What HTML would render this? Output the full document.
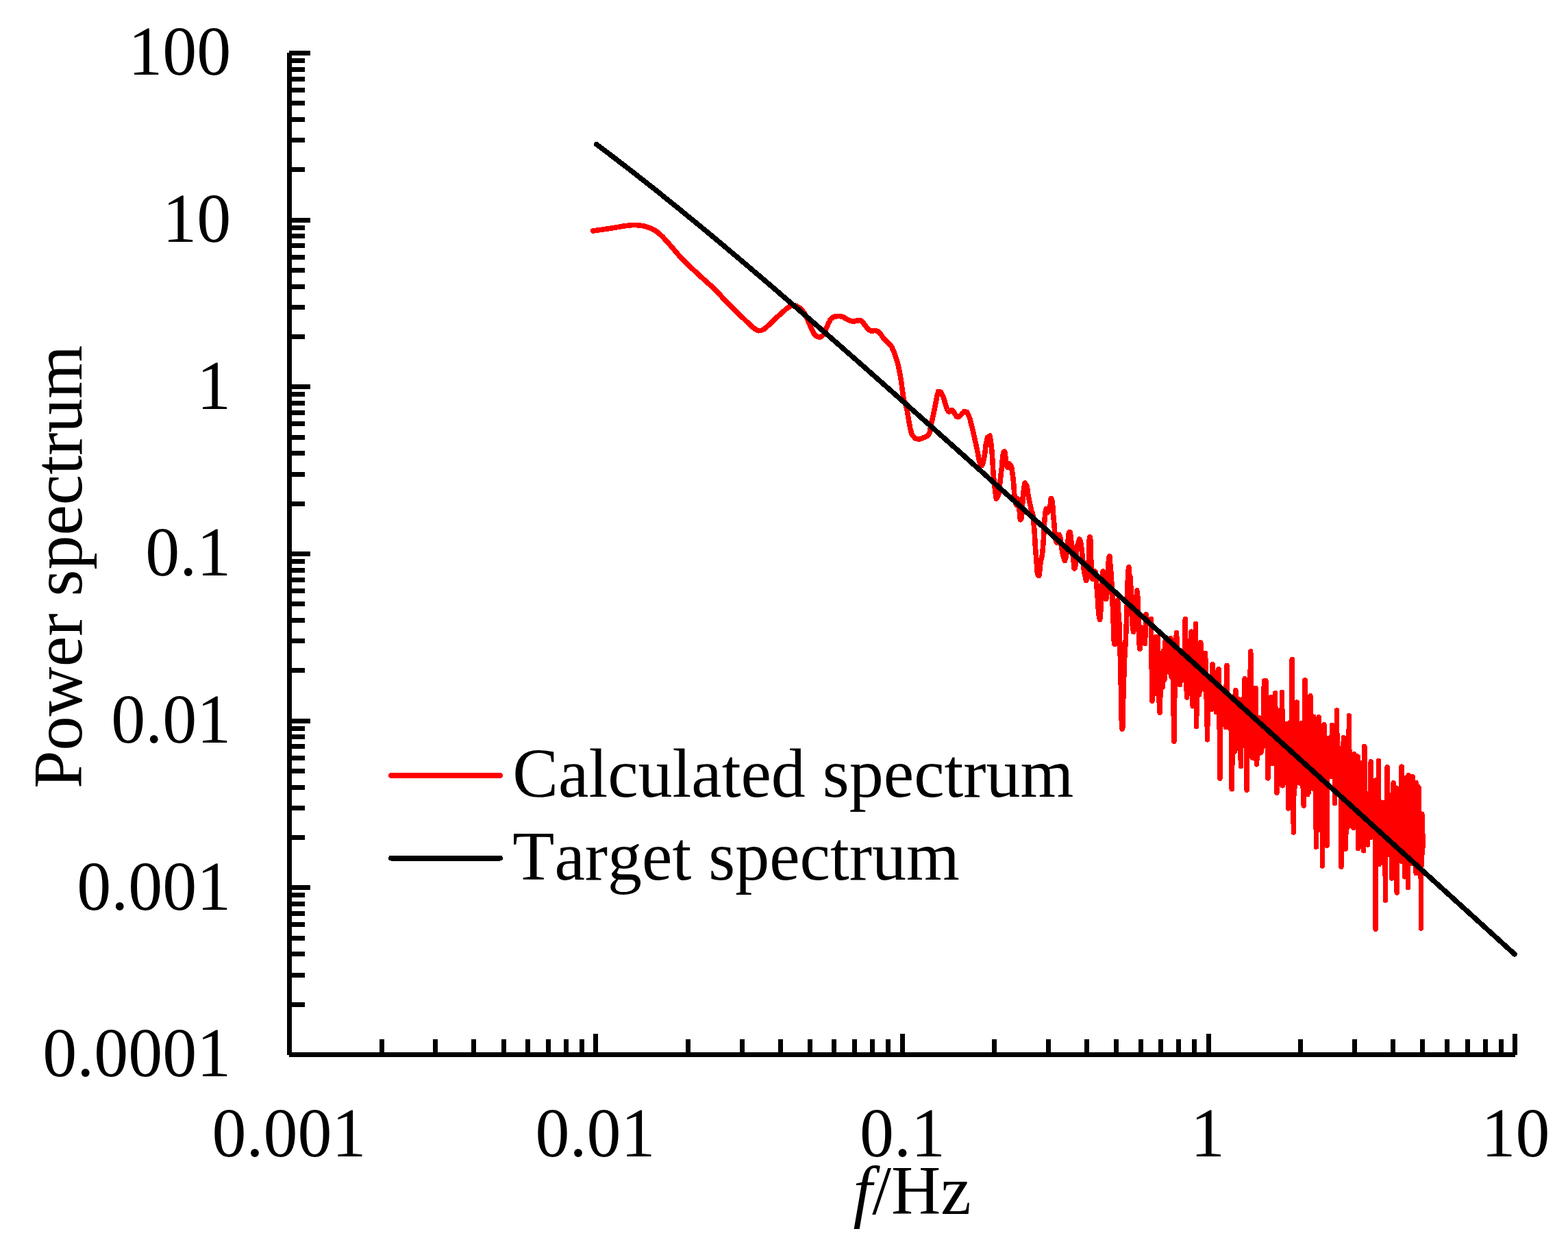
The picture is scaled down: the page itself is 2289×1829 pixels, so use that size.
<!DOCTYPE html>
<html lang="en"><head><meta charset="utf-8"><title>Power spectrum</title>
<style>html,body{margin:0;padding:0;background:#fff}body{width:2289px;height:1829px;overflow:hidden}svg{display:block}text{font-family:"Liberation Serif","Times New Roman",serif;font-size:100px;fill:#000;font-kerning:none;font-variant-ligatures:none}</style></head><body>
<svg width="2289" height="1829" viewBox="0 0 2289 1829">
<rect width="2289" height="1829" fill="#fff"/>
<g fill="#000" shape-rendering="crispEdges">
<rect x="419" y="77" width="7" height="1463"/>
<rect x="422" y="1536" width="1790" height="7"/>
<rect x="422" y="74" width="31" height="7"/>
<rect x="422" y="244" width="23" height="7"/>
<rect x="422" y="201" width="23" height="7"/>
<rect x="422" y="171" width="23" height="7"/>
<rect x="422" y="147" width="23" height="7"/>
<rect x="422" y="128" width="23" height="7"/>
<rect x="422" y="112" width="23" height="7"/>
<rect x="422" y="98" width="23" height="7"/>
<rect x="422" y="85" width="23" height="7"/>
<rect x="422" y="318" width="31" height="7"/>
<rect x="422" y="488" width="23" height="7"/>
<rect x="422" y="445" width="23" height="7"/>
<rect x="422" y="415" width="23" height="7"/>
<rect x="422" y="391" width="23" height="7"/>
<rect x="422" y="372" width="23" height="7"/>
<rect x="422" y="355" width="23" height="7"/>
<rect x="422" y="341" width="23" height="7"/>
<rect x="422" y="329" width="23" height="7"/>
<rect x="422" y="561" width="31" height="7"/>
<rect x="422" y="732" width="23" height="7"/>
<rect x="422" y="689" width="23" height="7"/>
<rect x="422" y="658" width="23" height="7"/>
<rect x="422" y="635" width="23" height="7"/>
<rect x="422" y="615" width="23" height="7"/>
<rect x="422" y="599" width="23" height="7"/>
<rect x="422" y="585" width="23" height="7"/>
<rect x="422" y="572" width="23" height="7"/>
<rect x="422" y="805" width="31" height="7"/>
<rect x="422" y="975" width="23" height="7"/>
<rect x="422" y="932" width="23" height="7"/>
<rect x="422" y="902" width="23" height="7"/>
<rect x="422" y="878" width="23" height="7"/>
<rect x="422" y="859" width="23" height="7"/>
<rect x="422" y="843" width="23" height="7"/>
<rect x="422" y="829" width="23" height="7"/>
<rect x="422" y="816" width="23" height="7"/>
<rect x="422" y="1049" width="31" height="7"/>
<rect x="422" y="1219" width="23" height="7"/>
<rect x="422" y="1176" width="23" height="7"/>
<rect x="422" y="1146" width="23" height="7"/>
<rect x="422" y="1122" width="23" height="7"/>
<rect x="422" y="1103" width="23" height="7"/>
<rect x="422" y="1086" width="23" height="7"/>
<rect x="422" y="1072" width="23" height="7"/>
<rect x="422" y="1060" width="23" height="7"/>
<rect x="422" y="1292" width="31" height="7"/>
<rect x="422" y="1463" width="23" height="7"/>
<rect x="422" y="1420" width="23" height="7"/>
<rect x="422" y="1389" width="23" height="7"/>
<rect x="422" y="1366" width="23" height="7"/>
<rect x="422" y="1346" width="23" height="7"/>
<rect x="422" y="1330" width="23" height="7"/>
<rect x="422" y="1316" width="23" height="7"/>
<rect x="422" y="1303" width="23" height="7"/>
<rect x="422" y="1536" width="31" height="7"/>
<rect x="554" y="1517" width="7" height="23"/>
<rect x="632" y="1517" width="7" height="23"/>
<rect x="688" y="1517" width="7" height="23"/>
<rect x="732" y="1517" width="7" height="23"/>
<rect x="767" y="1517" width="7" height="23"/>
<rect x="797" y="1517" width="7" height="23"/>
<rect x="823" y="1517" width="7" height="23"/>
<rect x="846" y="1517" width="7" height="23"/>
<rect x="866" y="1509" width="7" height="31"/>
<rect x="1001" y="1517" width="7" height="23"/>
<rect x="1080" y="1517" width="7" height="23"/>
<rect x="1136" y="1517" width="7" height="23"/>
<rect x="1179" y="1517" width="7" height="23"/>
<rect x="1214" y="1517" width="7" height="23"/>
<rect x="1244" y="1517" width="7" height="23"/>
<rect x="1270" y="1517" width="7" height="23"/>
<rect x="1293" y="1517" width="7" height="23"/>
<rect x="1314" y="1509" width="7" height="31"/>
<rect x="1448" y="1517" width="7" height="23"/>
<rect x="1527" y="1517" width="7" height="23"/>
<rect x="1583" y="1517" width="7" height="23"/>
<rect x="1626" y="1517" width="7" height="23"/>
<rect x="1662" y="1517" width="7" height="23"/>
<rect x="1691" y="1517" width="7" height="23"/>
<rect x="1717" y="1517" width="7" height="23"/>
<rect x="1740" y="1517" width="7" height="23"/>
<rect x="1761" y="1509" width="7" height="31"/>
<rect x="1895" y="1517" width="7" height="23"/>
<rect x="1974" y="1517" width="7" height="23"/>
<rect x="2030" y="1517" width="7" height="23"/>
<rect x="2073" y="1517" width="7" height="23"/>
<rect x="2109" y="1517" width="7" height="23"/>
<rect x="2139" y="1517" width="7" height="23"/>
<rect x="2165" y="1517" width="7" height="23"/>
<rect x="2188" y="1517" width="7" height="23"/>
<rect x="2208" y="1509" width="7" height="31"/>
</g>
<text transform="translate(337.3,109.3) scale(1,1.025)" text-anchor="end">100</text>
<text transform="translate(337.3,353.0) scale(1,1.025)" text-anchor="end">10</text>
<text transform="translate(337.3,596.6) scale(1,1.025)" text-anchor="end">1</text>
<text transform="translate(337.3,840.3) scale(1,1.025)" text-anchor="end">0.1</text>
<text transform="translate(337.3,1084.0) scale(1,1.025)" text-anchor="end">0.01</text>
<text transform="translate(337.3,1327.6) scale(1,1.025)" text-anchor="end">0.001</text>
<text transform="translate(337.3,1571.3) scale(1,1.025)" text-anchor="end">0.0001</text>
<text transform="translate(422.0,1687.6) scale(1,1.025)" text-anchor="middle">0.001</text>
<text transform="translate(869.0,1687.6) scale(1,1.025)" text-anchor="middle">0.01</text>
<text transform="translate(1317.4,1687.6) scale(1,1.025)" text-anchor="middle">0.1</text>
<text transform="translate(1763.0,1687.6) scale(1,1.025)" text-anchor="middle">1</text>
<text transform="translate(2212.5,1687.6) scale(1,1.025)" text-anchor="middle">10</text>
<text transform="translate(1245.4,1772.2) scale(1,1.02)"><tspan font-style="italic">f</tspan>/Hz</text>
<text transform="translate(118.8,1151) rotate(-90) scale(1,1.02)">Power spectrum</text>
<line shape-rendering="crispEdges" x1="571" y1="1132" x2="730" y2="1132" stroke="#f00" stroke-width="8" stroke-linecap="round"/>
<line shape-rendering="crispEdges" x1="571" y1="1252.6" x2="730" y2="1252.6" stroke="#000" stroke-width="7.8" stroke-linecap="round"/>
<text transform="translate(748.3,1163) scale(1,1.02)">Calculated spectrum</text>
<text transform="translate(748.3,1283.5) scale(1,1.02)">Target spectrum</text>
<path d="M865.6 337.0C871.5 336.2 871.9 336.2 883.4 334.5C894.9 332.8 889.7 333.5 900.1 331.8C910.5 330.1 906.0 330.5 914.6 329.5C923.2 328.5 918.4 328.7 925.8 328.7C933.2 328.7 930.2 328.5 936.9 329.5C943.6 330.5 939.9 329.7 945.8 331.8C951.7 333.9 948.7 332.2 954.7 335.7C960.7 339.2 957.7 337.0 963.7 342.3C969.7 347.6 966.7 345.1 972.6 351.5C978.5 357.9 975.7 354.8 981.5 361.5C987.3 368.2 984.2 364.9 990.0 371.5C995.8 378.1 991.8 374.0 999.0 381.2C1006.2 388.4 1001.8 384.1 1011.6 393.2C1021.4 402.3 1017.2 398.4 1028.3 408.6C1039.4 418.8 1035.4 414.2 1045.0 423.7C1054.6 433.2 1047.9 427.4 1057.2 437.0C1066.5 446.6 1061.9 441.8 1072.8 452.6C1083.7 463.4 1080.9 460.7 1090.0 469.4C1099.1 478.1 1094.9 474.4 1100.1 478.6C1105.3 482.8 1102.6 480.6 1105.6 481.9C1108.6 483.2 1106.4 482.7 1109.0 482.5C1111.6 482.3 1110.1 483.0 1113.4 481.3C1116.7 479.6 1113.4 482.2 1119.0 477.4C1124.6 472.6 1122.7 473.8 1130.1 466.9C1137.5 460.0 1134.2 462.9 1141.3 456.8C1148.4 450.7 1145.7 452.0 1151.3 448.5C1156.9 445.0 1153.5 446.4 1158.0 446.2C1162.5 446.0 1160.2 445.5 1164.7 447.9C1169.2 450.3 1167.3 448.7 1171.4 453.5C1175.5 458.3 1173.6 456.1 1176.9 462.4C1180.2 468.7 1178.4 465.7 1181.4 472.4C1184.4 479.1 1182.8 476.9 1185.8 482.5C1188.8 488.1 1186.9 486.0 1190.3 489.1C1193.7 492.2 1192.2 491.9 1195.9 491.9C1199.6 491.9 1198.1 493.0 1201.4 489.1C1204.7 485.2 1202.9 486.5 1205.9 480.2C1208.9 473.9 1207.4 475.6 1210.4 470.2C1213.4 464.8 1211.1 466.9 1214.8 464.1C1218.5 461.3 1216.7 462.4 1221.5 461.8C1226.3 461.2 1224.5 461.1 1229.3 462.4C1234.1 463.7 1231.2 463.5 1236.0 465.7C1240.8 467.9 1238.6 468.1 1243.8 468.9C1249.0 469.7 1247.1 468.1 1251.6 468.0C1256.1 467.9 1253.5 466.3 1257.2 468.5C1260.9 470.7 1259.0 470.4 1262.7 474.7C1266.4 479.0 1264.9 478.5 1268.3 481.3C1271.7 484.1 1269.5 482.5 1272.8 483.0C1276.1 483.5 1274.6 481.8 1278.3 482.7C1282.0 483.6 1279.8 481.8 1283.9 485.8C1288.0 489.8 1285.4 488.8 1290.6 494.7C1295.8 500.6 1295.0 498.0 1299.5 503.6C1304.0 509.2 1301.0 504.7 1304.0 511.4C1307.0 518.1 1305.8 515.5 1308.4 523.7C1311.0 531.9 1309.6 525.9 1311.8 535.9C1314.0 545.9 1313.3 542.6 1315.1 553.8C1316.9 565.0 1315.8 559.4 1317.3 569.4C1318.8 579.4 1317.6 575.0 1319.6 583.8C1321.6 592.6 1321.0 585.5 1323.4 595.8C1325.8 606.1 1324.6 603.2 1326.8 614.7C1329.0 626.2 1327.9 622.9 1330.1 630.3C1332.3 637.7 1330.2 633.5 1333.5 637.0C1336.8 640.5 1335.3 640.3 1340.1 640.9C1344.9 641.5 1343.4 640.2 1347.9 638.7C1352.4 637.2 1350.5 638.8 1353.5 636.4C1356.5 634.0 1355.0 636.8 1356.9 631.4C1358.8 626.0 1357.3 628.8 1359.1 620.3C1360.9 611.8 1360.2 616.2 1362.4 605.8C1364.6 595.4 1363.7 599.1 1365.8 589.1C1367.9 579.1 1366.8 581.5 1368.6 575.7C1370.4 569.9 1368.9 571.4 1371.3 571.8C1373.7 572.2 1372.8 570.7 1375.8 576.8C1378.8 582.9 1377.7 582.8 1380.3 590.2C1382.9 597.6 1381.4 595.8 1383.6 599.1C1385.8 602.4 1384.7 600.2 1386.9 600.2C1389.1 600.2 1387.9 597.6 1390.3 599.1C1392.7 600.6 1391.8 601.5 1394.2 604.7C1396.6 607.9 1395.1 607.9 1397.5 608.6C1399.9 609.3 1398.6 608.9 1401.4 606.9C1404.2 604.9 1403.3 604.5 1405.9 602.5C1408.5 600.5 1406.6 599.7 1409.2 600.8C1411.8 601.9 1410.7 599.3 1413.7 605.8C1416.7 612.3 1415.1 609.2 1418.1 620.3C1421.1 631.4 1419.6 626.2 1422.6 639.2C1425.6 652.2 1424.6 647.8 1427.0 659.3C1429.4 670.8 1428.1 667.5 1429.8 673.8C1431.5 680.1 1430.4 677.5 1432.1 678.2C1433.8 678.9 1433.0 681.2 1434.8 676.0C1436.6 670.8 1435.9 672.6 1437.6 662.6C1439.3 652.6 1438.0 653.9 1439.9 645.9C1441.8 637.9 1440.8 637.4 1443.2 638.7C1445.6 640.0 1444.1 626.5 1447.0 649.7C1449.9 672.9 1448.6 683.3 1451.8 708.2C1455.0 733.1 1453.4 729.4 1456.5 724.5C1459.6 719.6 1458.1 715.0 1461.1 693.4C1464.1 671.8 1462.6 664.0 1465.5 659.7C1468.4 655.4 1467.0 674.3 1469.9 680.4C1472.8 686.5 1471.4 673.4 1474.2 678.0C1477.0 682.6 1475.7 675.7 1478.4 694.3C1481.1 712.9 1479.7 721.9 1482.4 733.7C1485.1 745.5 1483.7 721.4 1486.4 729.6C1489.1 737.8 1487.8 762.3 1490.4 758.3C1493.0 754.3 1491.7 734.4 1494.2 717.5C1496.7 700.6 1495.5 704.6 1498.0 707.7C1500.5 710.8 1499.3 714.9 1501.7 726.8C1504.1 738.7 1502.9 731.8 1505.3 743.5C1507.7 755.2 1506.5 739.3 1508.9 761.8C1511.3 784.3 1510.1 785.0 1512.4 811.0C1514.7 837.0 1513.6 836.7 1515.8 839.8C1518.1 842.9 1517.0 833.9 1519.2 820.3C1521.4 806.7 1520.3 822.1 1522.5 798.9C1524.7 775.7 1523.6 767.6 1525.8 750.6C1527.9 733.6 1526.9 750.4 1529.0 747.9C1531.1 745.4 1530.1 749.6 1532.2 743.2C1534.2 736.8 1533.2 723.5 1535.3 728.8C1537.3 734.1 1536.3 739.0 1538.3 759.0C1540.3 779.0 1539.3 780.0 1541.3 788.7C1543.3 797.4 1542.3 787.0 1544.3 785.0C1546.3 783.0 1545.3 777.1 1547.2 782.7C1549.2 788.3 1548.2 791.3 1550.1 801.7C1552.0 812.1 1551.1 809.5 1552.9 813.8C1554.8 818.1 1553.9 821.2 1555.7 814.7C1557.6 808.2 1556.7 807.0 1558.5 794.3C1560.3 781.6 1559.4 777.8 1561.2 776.6C1563.0 775.4 1562.1 778.5 1563.9 790.6C1565.7 802.7 1564.8 800.1 1566.5 812.9C1568.3 825.7 1567.4 832.2 1569.1 829.1C1570.9 826.0 1570.0 815.8 1571.7 803.6C1573.4 791.4 1572.6 797.4 1574.2 792.4C1575.9 787.4 1575.1 785.0 1576.7 788.7C1578.4 792.4 1577.6 790.9 1579.2 803.6C1580.9 816.3 1580.0 814.4 1581.7 826.8C1583.3 839.2 1582.5 834.5 1584.1 840.7C1585.7 846.9 1584.9 849.9 1586.5 845.3C1588.0 840.7 1587.3 847.4 1588.8 826.8C1590.4 806.2 1589.6 782.2 1591.1 783.6C1592.7 785.0 1591.9 810.7 1593.4 831.0C1595.0 851.3 1594.2 843.5 1595.7 844.4C1597.2 845.3 1596.5 833.0 1598.0 833.7C1599.4 834.4 1598.7 832.9 1600.2 846.4C1601.6 859.9 1600.9 856.6 1602.4 874.3C1603.8 892.0 1603.1 893.3 1604.5 899.5C1606.0 905.7 1605.3 909.0 1606.7 892.9C1608.1 876.8 1607.4 870.5 1608.8 851.1C1610.2 831.7 1609.5 833.3 1610.9 834.8C1612.3 836.3 1611.6 842.8 1613.0 855.7C1614.4 868.6 1613.7 878.0 1615.0 873.4C1616.4 868.8 1615.7 861.8 1617.1 841.8C1618.4 821.8 1617.8 818.1 1619.1 813.5C1620.4 808.9 1619.8 813.8 1621.1 827.9C1622.4 842.0 1621.7 831.0 1623.1 855.7C1624.4 880.4 1623.7 873.9 1625.0 902.1C1626.3 930.3 1625.7 937.1 1626.9 940.2C1628.2 943.3 1627.6 931.8 1628.9 911.4C1630.1 891.0 1629.5 885.1 1630.7 878.9C1632.0 872.7 1631.4 875.9 1632.6 892.9C1633.9 909.9 1633.3 894.3 1634.5 930.0C1635.7 965.7 1635.1 955.3 1636.3 1000.0C1637.5 1044.7 1636.9 1060.7 1638.1 1064.0C1639.4 1067.3 1638.8 1044.7 1640.0 1010.0C1641.2 975.3 1640.6 986.7 1641.7 960.0C1642.9 933.3 1642.3 955.5 1643.5 930.0C1644.7 904.5 1644.1 915.4 1645.3 883.6C1646.4 851.8 1645.9 849.4 1647.0 834.5C1648.2 819.6 1647.6 833.5 1648.7 839.0C1649.9 844.5 1649.3 833.0 1650.5 851.0C1651.6 869.0 1651.0 870.6 1652.2 892.9C1653.3 915.2 1652.7 910.3 1653.8 918.0C1655.0 925.7 1654.4 922.0 1655.5 916.0C1656.6 910.0 1656.1 913.7 1657.2 900.0C1658.3 886.3 1657.7 886.2 1658.8 875.0C1659.9 863.8 1659.3 856.5 1660.4 866.5C1661.5 876.5 1661.0 878.9 1662.0 905.0C1663.1 931.1 1662.6 936.5 1663.6 944.8C1664.7 953.1 1664.2 939.4 1665.2 930.0C1666.3 920.6 1665.7 918.2 1666.8 916.5C1667.8 914.8 1667.3 919.8 1668.4 925.0C1669.4 930.2 1668.9 927.2 1669.9 932.0C1670.9 936.8 1670.9 936.9 1671.4 939.3L1673.0 896.6L1674.5 910.2L1676.0 905.7L1677.5 909.9L1678.9 904.0L1680.4 903.5L1681.9 1023.2L1683.3 1001.6L1684.7 949.7L1686.2 1012.2L1687.6 929.5L1689.0 993.8L1690.4 929.4L1691.7 1016.0L1693.1 1040.0L1694.5 989.9L1695.8 981.9L1697.2 1003.0L1698.5 950.0L1699.8 992.4L1701.2 935.6L1702.5 974.9L1703.8 946.3L1705.1 976.2L1706.3 936.5L1707.6 981.5L1708.9 931.9L1710.1 988.0L1711.4 943.8L1712.6 998.9L1713.9 1082.0L1715.1 989.7L1716.3 944.7L1717.5 923.7L1718.7 955.0L1719.9 983.8L1721.1 966.8L1722.3 999.5L1723.5 963.4L1724.6 993.2L1725.8 951.9L1726.9 982.8L1728.1 951.3L1729.2 979.3L1730.3 903.7L1731.5 984.5L1732.6 1018.0L1733.7 995.8L1734.8 966.6L1735.9 1010.2L1737.0 936.6L1738.1 990.2L1739.2 922.2L1740.3 995.9L1741.3 1030.8L1742.4 1003.2L1743.4 928.0L1744.5 1012.7L1745.5 910.7L1746.6 1060.3L1747.6 939.0L1748.7 999.3L1749.7 969.3L1750.7 1014.0L1751.7 940.1L1752.7 937.8L1753.7 952.9L1754.7 995.2L1755.7 973.1L1756.7 998.6L1757.7 966.2L1758.7 1006.4L1759.6 953.4L1760.6 1018.4L1761.6 987.0L1762.5 1079.8L1763.5 987.6L1764.4 1027.3L1765.4 989.7L1766.3 1023.9L1767.3 1006.4L1768.2 1035.7L1769.1 991.7L1770.0 969.7L1771.0 984.6L1771.9 1025.3L1772.8 1000.2L1773.7 1031.3L1774.6 981.9L1775.5 1039.7L1776.4 984.7L1777.3 1022.1L1778.2 998.2L1779.0 976.8L1779.9 1007.4L1780.8 1136.0L1781.7 1005.2L1782.5 1054.3L1783.4 1009.0L1784.2 1054.8L1785.1 1012.2L1785.9 1051.1L1786.8 1026.6L1787.6 1051.9L1788.5 1017.2L1789.3 1061.3L1790.1 1007.5L1791.0 971.5L1791.8 1033.0L1792.6 1061.0L1793.4 1020.0L1794.2 1048.5L1795.1 1029.7L1795.9 1063.4L1796.7 1018.9L1797.5 1063.6L1798.3 1151.8L1799.1 1085.2L1799.9 1029.1L1800.6 1068.5L1801.4 1016.3L1802.2 1097.2L1803.0 1023.0L1803.8 1007.7L1804.5 1027.2L1805.3 1092.8L1806.1 1037.9L1806.8 1076.0L1807.6 1024.6L1808.4 1089.5L1809.1 1021.2L1809.9 1073.9L1810.6 1036.8L1811.4 1118.7L1812.1 1043.0L1812.8 1088.4L1813.6 1054.8L1814.3 1085.5L1815.0 1019.6L1815.8 1088.0L1816.5 1036.4L1817.2 990.9L1817.9 1000.8L1818.7 1085.1L1819.4 1020.5L1820.1 1153.0L1820.8 1008.7L1821.5 1102.5L1822.2 1037.3L1822.9 1091.7L1823.6 1023.9L1824.3 1088.3L1825.0 998.5L1825.7 950.8L1826.4 1004.7L1827.1 1103.8L1827.8 1033.0L1828.4 1106.0L1829.1 1004.9L1829.8 1092.4L1830.5 1024.0L1831.1 1096.3L1831.8 1017.2L1832.5 1107.5L1833.2 1004.6L1833.8 1095.1L1834.5 1115.8L1835.1 1099.5L1835.8 1057.6L1836.4 1094.5L1837.1 1059.0L1837.8 1099.9L1838.4 1047.9L1839.0 1094.1L1839.7 1061.7L1840.3 1098.8L1841.0 1049.5L1841.6 1096.7L1842.2 1060.8L1842.9 1091.2L1843.5 1054.7L1844.1 1086.4L1844.8 1053.7L1845.4 994.0L1846.0 999.4L1846.6 1086.7L1847.3 1038.1L1847.9 994.0L1848.5 1052.7L1849.1 1085.0L1849.7 1052.9L1850.3 1090.3L1850.9 1135.9L1851.5 1112.0L1852.1 1035.3L1852.7 1109.0L1853.3 1033.4L1853.9 1103.9L1854.5 1048.8L1855.1 1091.3L1855.7 1017.5L1856.3 1097.9L1856.9 1044.0L1857.5 1114.4L1858.1 1030.0L1858.7 1078.9L1859.3 1031.7L1859.8 1104.9L1860.4 1027.9L1861.0 1085.1L1861.6 1011.9L1862.1 1105.6L1862.7 1045.6L1863.3 1113.7L1863.9 1157.0L1864.4 1132.9L1865.0 1039.6L1865.5 1121.7L1866.1 1068.4L1866.7 1144.6L1867.2 1071.9L1867.8 1119.5L1868.3 1057.8L1868.9 1116.3L1869.4 1036.7L1870.0 1124.8L1870.5 1069.9L1871.1 1141.5L1871.6 1010.8L1872.2 1146.8L1872.7 1064.1L1873.3 1117.1L1873.8 1070.7L1874.4 1121.1L1874.9 1061.7L1875.4 1126.4L1876.0 1077.4L1876.5 1129.4L1877.0 1065.6L1877.6 1142.6L1878.1 1091.0L1878.6 1127.9L1879.1 1056.4L1879.7 1111.9L1880.2 1086.8L1880.7 1179.9L1881.2 1089.1L1881.7 1157.3L1882.3 1069.1L1882.8 1168.4L1883.3 1054.6L1883.8 1135.5L1884.3 1076.4L1884.8 1130.0L1885.3 1095.1L1885.8 1140.6L1886.3 962.6L1886.9 1120.2L1887.4 1063.7L1887.9 1144.7L1888.4 1215.0L1888.9 1134.0L1889.4 1065.9L1889.9 1149.4L1890.4 1059.6L1890.8 1111.0L1891.3 1049.0L1891.8 1109.9L1892.3 1025.5L1892.8 1124.8L1893.3 1025.2L1893.8 1118.4L1894.3 1061.8L1894.8 1125.1L1895.2 1078.9L1895.7 1132.2L1896.2 1075.5L1896.7 1141.7L1897.2 1066.7L1897.6 1143.1L1898.1 1087.3L1898.6 1114.7L1899.1 1088.4L1899.5 1140.3L1900.0 1056.0L1900.5 1129.5L1901.0 1076.0L1901.4 1147.9L1901.9 1066.0L1902.4 1134.1L1902.8 1086.2L1903.3 1176.0L1903.8 1092.4L1904.2 1137.4L1904.7 1079.5L1905.1 992.7L1905.6 1057.9L1906.1 1150.5L1906.5 1053.2L1907.0 1144.6L1907.4 1028.4L1907.9 1155.2L1908.3 1072.9L1908.8 1159.7L1909.2 1047.1L1909.7 1148.9L1910.1 1034.6L1910.6 1155.8L1911.0 1065.6L1911.5 1123.2L1911.9 1020.8L1912.3 1128.6L1912.8 1015.8L1913.2 1150.3L1913.7 1068.4L1914.1 1116.3L1914.5 1083.2L1915.0 1117.9L1915.4 1082.8L1915.9 1123.0L1916.3 1061.4L1916.7 1151.2L1917.2 1052.5L1917.6 1046.2L1918.0 1082.5L1918.4 1150.1L1918.9 1095.3L1919.3 1148.7L1919.7 1099.5L1920.2 1140.9L1920.6 1099.6L1921.0 1124.8L1921.4 1236.2L1921.8 1188.5L1922.3 1080.1L1922.7 1201.1L1923.1 1101.9L1923.5 1188.2L1923.9 1114.6L1924.4 1190.5L1924.8 1081.4L1925.2 1046.7L1925.6 1112.1L1926.0 1211.6L1926.4 1071.3L1926.8 1208.4L1927.2 1120.0L1927.7 1187.6L1928.1 1094.7L1928.5 1166.9L1928.9 1092.3L1929.3 1186.2L1929.7 1096.7L1930.1 1155.8L1930.5 1263.9L1930.9 1199.4L1931.3 1086.1L1931.7 1219.4L1932.1 1097.5L1932.5 1197.7L1932.9 1058.0L1933.3 1173.4L1933.7 1107.5L1934.1 1195.8L1934.5 1134.3L1934.9 1228.5L1935.3 1090.2L1935.7 1199.6L1936.1 1081.1L1936.5 1197.0L1936.8 1125.3L1937.2 1234.0L1937.6 1085.9L1938.0 1122.4L1938.4 1078.1L1938.8 1130.6L1939.2 1098.1L1939.6 1117.3L1939.9 1094.1L1940.3 1114.4L1940.7 1078.2L1941.1 1120.0L1941.5 1091.6L1941.8 1122.5L1942.2 1082.6L1942.6 1130.6L1943.0 1075.8L1943.4 1133.7L1943.7 1076.2L1944.1 1127.7L1944.5 1058.7L1944.9 1115.0L1945.2 1077.2L1945.6 1122.8L1946.0 1072.2L1946.4 1122.0L1946.7 1077.2L1947.1 1113.8L1947.5 1066.6L1947.8 1129.1L1948.2 1080.7L1948.6 1172.6L1948.9 1090.6L1949.3 1136.0L1949.7 1090.8L1950.0 1122.4L1950.4 1086.7L1950.8 1143.2L1951.1 1092.5L1951.5 1036.9L1951.9 1099.7L1952.2 1148.2L1952.6 1097.4L1952.9 1150.0L1953.3 1112.8L1953.6 1130.0L1954.0 1097.9L1954.4 1143.7L1954.7 1098.4L1955.1 1129.2L1955.4 1111.6L1955.8 1136.7L1956.1 1110.6L1956.5 1129.9L1956.8 1101.7L1957.2 1142.7L1957.5 1092.8L1957.9 1265.2L1958.2 1128.6L1958.6 1220.3L1958.9 1143.8L1959.3 1178.1L1959.6 1119.2L1960.0 1212.2L1960.3 1119.1L1960.7 1208.3L1961.0 1102.4L1961.4 1076.8L1961.7 1084.2L1962.0 1168.4L1962.4 1110.4L1962.7 1196.5L1963.1 1111.4L1963.4 1174.8L1963.8 1088.9L1964.1 1178.2L1964.4 1239.1L1964.8 1211.5L1965.1 1127.7L1965.4 1163.5L1965.8 1081.3L1966.1 1209.4L1966.5 1102.8L1966.8 1199.4L1967.1 1095.5L1967.5 1183.4L1967.8 1105.6L1968.1 1181.5L1968.4 1110.2L1968.8 1159.1L1969.1 1115.6L1969.4 1044.8L1969.8 1108.1L1970.1 1187.5L1970.4 1133.1L1970.8 1185.4L1971.1 1108.7L1971.4 1174.6L1971.7 1123.0L1972.1 1167.9L1972.4 1140.0L1972.7 1203.1L1973.0 1131.6L1973.4 1205.8L1973.7 1128.2L1974.0 1185.3L1974.3 1126.9L1974.6 1189.8L1975.0 1144.0L1975.3 1203.3L1975.6 1111.6L1975.9 1208.0L1976.2 1133.4L1976.6 1202.1L1976.9 1100.8L1977.2 1186.1L1977.5 1142.1L1977.8 1206.8L1978.1 1133.3L1978.5 1201.9L1978.8 1136.4L1979.1 1186.1L1979.4 1134.5L1979.7 1171.5L1980.0 1117.9L1980.3 1188.8L1980.7 1103.5L1981.0 1183.9L1981.3 1130.8L1981.6 1195.6L1981.9 1113.1L1982.2 1209.6L1982.5 1104.9L1982.8 1238.5L1983.1 1144.2L1983.4 1215.6L1983.7 1137.8L1984.0 1206.5L1984.4 1161.4L1984.7 1219.3L1985.0 1146.3L1985.3 1225.3L1985.6 1160.4L1985.9 1187.9L1986.2 1142.0L1986.5 1224.2L1986.8 1123.8L1987.1 1207.1L1987.4 1113.4L1987.7 1196.7L1988.0 1129.8L1988.3 1191.7L1988.6 1123.5L1988.9 1232.6L1989.2 1138.7L1989.5 1212.5L1989.8 1159.8L1990.1 1215.5L1990.4 1161.2L1990.7 1241.8L1991.0 1148.8L1991.3 1184.7L1991.5 1138.8L1991.8 1089.6L1992.1 1155.0L1992.4 1225.9L1992.7 1158.5L1993.0 1212.3L1993.3 1158.7L1993.6 1213.0L1993.9 1171.9L1994.2 1200.0L1994.5 1181.8L1994.8 1210.8L1995.0 1169.4L1995.3 1216.0L1995.6 1164.6L1995.9 1206.8L1996.2 1173.2L1996.5 1233.0L1996.8 1161.7L1997.1 1216.0L1997.3 1162.0L1997.6 1196.3L1997.9 1160.6L1998.2 1197.1L1998.5 1158.1L1998.8 1217.1L1999.1 1164.7L1999.3 1221.1L1999.6 1174.7L1999.9 1197.3L2000.2 1181.5L2000.5 1222.4L2000.7 1155.8L2001.0 1221.3L2001.3 1111.9L2001.6 1204.9L2001.9 1168.1L2002.1 1196.3L2002.4 1151.7L2002.7 1221.7L2003.0 1159.0L2003.3 1204.5L2003.5 1168.3L2003.8 1217.3L2004.1 1154.6L2004.4 1191.6L2004.6 1155.3L2004.9 1204.1L2005.2 1140.0L2005.5 1189.3L2005.7 1151.8L2006.0 1192.0L2006.3 1148.7L2006.6 1211.8L2006.8 1149.2L2007.1 1197.0L2007.4 1153.8L2007.6 1202.8L2007.9 1161.0L2008.2 1356.0L2008.4 1184.4L2008.7 1260.0L2009.0 1170.7L2009.3 1222.9L2009.5 1138.4L2009.8 1256.9L2010.1 1173.3L2010.3 1243.0L2010.6 1151.2L2010.9 1224.6L2011.1 1168.1L2011.4 1239.9L2011.7 1163.3L2011.9 1243.4L2012.2 1171.7L2012.5 1110.8L2012.7 1178.0L2013.0 1261.7L2013.2 1203.1L2013.5 1258.0L2013.8 1170.2L2014.0 1227.3L2014.3 1178.9L2014.6 1240.9L2014.8 1192.1L2015.1 1228.8L2015.3 1189.0L2015.6 1227.7L2015.9 1171.9L2016.1 1250.4L2016.4 1189.4L2016.6 1248.7L2016.9 1182.7L2017.2 1242.9L2017.4 1176.6L2017.7 1237.9L2017.9 1196.6L2018.2 1256.4L2018.4 1171.5L2018.7 1229.5L2019.0 1199.1L2019.2 1248.4L2019.5 1197.5L2019.7 1233.0L2020.0 1184.6L2020.2 1234.7L2020.5 1199.1L2020.7 1238.8L2021.0 1193.2L2021.2 1262.1L2021.5 1180.9L2021.7 1245.6L2022.0 1196.7L2022.2 1259.5L2022.5 1314.0L2022.7 1229.5L2023.0 1171.9L2023.2 1245.9L2023.5 1171.3L2023.7 1220.2L2024.0 1187.0L2024.2 1233.2L2024.5 1191.0L2024.7 1227.2L2025.0 1193.9L2025.2 1119.7L2025.5 1163.9L2025.7 1237.3L2026.0 1159.0L2026.2 1223.8L2026.5 1183.2L2026.7 1238.5L2027.0 1166.5L2027.2 1217.7L2027.5 1169.4L2027.7 1239.7L2027.9 1169.7L2028.2 1216.8L2028.4 1182.6L2028.7 1233.8L2028.9 1190.5L2029.2 1247.7L2029.4 1190.3L2029.6 1228.8L2029.9 1186.1L2030.1 1223.8L2030.4 1167.9L2030.6 1227.4L2030.8 1191.1L2031.1 1246.0L2031.3 1165.2L2031.6 1282.0L2031.8 1172.6L2032.0 1240.9L2032.3 1174.0L2032.5 1242.0L2032.8 1164.8L2033.0 1250.1L2033.2 1192.3L2033.5 1249.0L2033.7 1194.1L2033.9 1250.0L2034.2 1142.9L2034.4 1258.1L2034.7 1190.0L2034.9 1234.5L2035.1 1147.5L2035.4 1246.1L2035.6 1173.3L2035.8 1248.6L2036.1 1194.2L2036.3 1252.8L2036.5 1186.2L2036.8 1223.7L2037.0 1173.4L2037.2 1259.5L2037.5 1150.6L2037.7 1224.6L2037.9 1182.8L2038.2 1265.0L2038.4 1150.6L2038.6 1251.9L2038.9 1153.5L2039.1 1257.4L2039.3 1302.9L2039.5 1224.3L2039.8 1156.2L2040.0 1247.5L2040.2 1169.7L2040.5 1247.5L2040.7 1164.0L2040.9 1228.4L2041.1 1189.6L2041.4 1243.4L2041.6 1168.4L2041.8 1237.3L2042.1 1178.6L2042.3 1245.0L2042.5 1187.2L2042.7 1231.7L2043.0 1183.3L2043.2 1243.1L2043.4 1184.5L2043.6 1249.3L2043.9 1183.6L2044.1 1253.0L2044.3 1189.2L2044.5 1241.9L2044.8 1169.8L2045.0 1245.1L2045.2 1182.2L2045.4 1232.2L2045.7 1165.2L2045.9 1219.9L2046.1 1119.2L2046.3 1257.6L2046.5 1152.8L2046.8 1216.8L2047.0 1144.3L2047.2 1229.5L2047.4 1148.7L2047.6 1256.5L2047.9 1137.1L2048.1 1223.8L2048.3 1139.9L2048.5 1240.6L2048.7 1172.6L2049.0 1217.4L2049.2 1137.3L2049.4 1231.2L2049.6 1163.1L2049.8 1253.5L2050.1 1136.0L2050.3 1213.9L2050.5 1279.8L2050.7 1227.5L2050.9 1147.0L2051.1 1254.6L2051.4 1166.5L2051.6 1227.8L2051.8 1144.2L2052.0 1230.9L2052.2 1143.6L2052.4 1256.8L2052.7 1151.1L2052.9 1245.5L2053.1 1178.6L2053.3 1241.7L2053.5 1148.3L2053.7 1263.9L2053.9 1183.9L2054.2 1234.3L2054.4 1163.9L2054.6 1267.7L2054.8 1160.4L2055.0 1227.7L2055.2 1136.9L2055.4 1295.5L2055.6 1174.8L2055.9 1229.8L2056.1 1132.0L2056.3 1236.4L2056.5 1147.9L2056.7 1260.5L2056.9 1167.4L2057.1 1222.3L2057.3 1134.6L2057.5 1234.2L2057.7 1152.9L2058.0 1250.7L2058.2 1170.2L2058.4 1241.0L2058.6 1142.0L2058.8 1218.2L2059.0 1150.3L2059.2 1223.4L2059.4 1178.2L2059.6 1236.4L2059.8 1166.4L2060.0 1260.7L2060.2 1147.5L2060.4 1237.4L2060.7 1141.7L2060.9 1249.3L2061.1 1134.1L2061.3 1251.9L2061.5 1177.0L2061.7 1252.0L2061.9 1138.2L2062.1 1134.0L2062.3 1176.1L2062.5 1218.0L2062.7 1164.9L2062.9 1235.7L2063.1 1187.5L2063.3 1241.3L2063.5 1182.8L2063.7 1227.9L2063.9 1179.6L2064.1 1233.2L2064.3 1185.6L2064.5 1217.7L2064.7 1181.3L2064.9 1223.3L2065.1 1167.9L2065.3 1238.4L2065.5 1149.5L2065.7 1253.0L2065.9 1156.8L2066.1 1228.2L2066.3 1145.6L2066.5 1228.0L2066.7 1164.2L2066.9 1247.4L2067.1 1142.6L2067.3 1274.7L2067.5 1153.4L2067.7 1244.2L2067.9 1171.5L2068.1 1273.3L2068.3 1190.2L2068.5 1257.4L2068.7 1148.6L2068.9 1243.4L2069.1 1184.1L2069.3 1236.3L2069.5 1176.7L2069.7 1247.5L2069.9 1148.5L2070.1 1274.6L2070.3 1188.6L2070.5 1234.7L2070.7 1179.3L2070.9 1239.0L2071.1 1167.1L2071.3 1149.8L2071.5 1195.7L2071.7 1251.1L2071.9 1199.1L2072.1 1263.0L2072.3 1194.2L2072.5 1246.2L2072.6 1211.3L2072.8 1250.9L2073.0 1219.0L2073.2 1259.3L2073.4 1211.1L2073.6 1250.9L2073.8 1214.8L2074.0 1242.3L2074.2 1190.1L2074.4 1354.9L2074.6 1209.4L2074.8 1264.5L2075.0 1191.5L2075.1 1253.5L2075.3 1215.1L2075.5 1260.3L2075.7 1188.2L2075.9 1247.2L2076.1 1190.7L2076.3 1243.5L2076.5 1199.6L2076.7 1241.6L2076.9 1218.1" fill="none" shape-rendering="crispEdges" stroke="#f00" stroke-width="7.6" stroke-linecap="round" stroke-linejoin="round"/>
<path d="M870.6 210.6C881.8 219.1 881.8 218.8 904.1 236.0C926.5 253.1 915.3 244.4 937.6 262.0C960.0 279.5 948.8 270.7 971.1 288.6C993.5 306.5 982.3 297.5 1004.6 315.8C1027.0 334.1 1015.8 324.9 1038.2 343.4C1060.5 362.0 1049.3 352.7 1071.7 371.5C1094.0 390.3 1082.8 380.8 1105.2 399.9C1127.5 418.9 1116.3 409.3 1138.7 428.6C1161.0 447.8 1149.9 438.2 1172.2 457.5C1194.5 476.9 1183.4 467.2 1205.7 486.7C1228.0 506.2 1216.9 496.5 1239.2 516.1C1261.5 535.7 1250.4 525.9 1272.7 545.6C1295.1 565.4 1283.9 555.5 1306.2 575.3C1328.6 595.1 1317.4 585.2 1339.7 605.1C1362.1 625.0 1350.9 615.0 1373.2 635.0C1395.6 654.9 1384.4 645.0 1406.8 665.0C1429.1 685.0 1417.9 675.0 1440.3 695.0C1462.6 715.1 1451.4 705.0 1473.8 725.1C1496.1 745.2 1485.0 735.1 1507.3 755.3C1529.6 775.4 1518.5 765.3 1540.8 785.5C1563.1 805.6 1552.0 795.5 1574.3 815.7C1596.6 835.9 1585.5 825.8 1607.8 846.0C1630.2 866.2 1619.0 856.1 1641.3 876.3C1663.7 896.5 1652.5 886.4 1674.8 906.6C1697.2 926.8 1686.0 916.7 1708.3 936.9C1730.7 957.1 1719.5 947.0 1741.9 967.2C1764.2 987.5 1753.0 977.4 1775.4 997.6C1797.7 1017.8 1786.5 1007.7 1808.9 1028.0C1831.2 1048.2 1820.1 1038.1 1842.4 1058.4C1864.7 1078.6 1853.6 1068.5 1875.9 1088.7C1898.2 1109.0 1887.1 1098.9 1909.4 1119.1C1931.7 1139.4 1920.6 1129.3 1942.9 1149.5C1965.3 1169.8 1954.1 1159.7 1976.4 1179.9C1998.8 1200.2 1987.6 1190.1 2009.9 1210.3C2032.3 1230.6 2021.1 1220.5 2043.4 1240.8C2065.8 1261.0 2054.6 1250.9 2077.0 1271.2C2099.3 1291.4 2088.1 1281.3 2110.5 1301.6C2132.8 1321.9 2121.6 1311.7 2144.0 1332.0C2166.3 1352.3 2155.2 1342.1 2177.5 1362.4C2199.8 1382.7 2199.8 1382.7 2211.0 1392.8" fill="none" shape-rendering="crispEdges" stroke="#000" stroke-width="7.5" stroke-linecap="round" stroke-linejoin="round"/>
</svg></body></html>
